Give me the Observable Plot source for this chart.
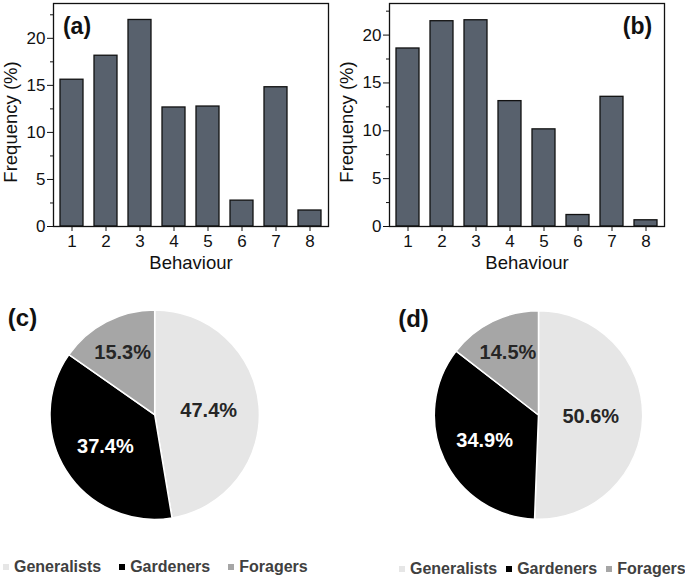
<!DOCTYPE html>
<html lang="en">
<head>
<meta charset="UTF-8">
<script src="https://cdn.jsdelivr.net/npm/d3@7"></script>
<script src="https://cdn.jsdelivr.net/npm/@observablehq/plot@0.6"></script>
<style>
  body { margin: 0; background: #fff; font-family: "Liberation Sans", Arial, sans-serif; }
  #fig { position: relative; width: 685px; height: 578px; overflow: hidden; }
  .panel { position: absolute; }
  .legend { position: absolute; display: flex; align-items: center; height: 18px; line-height: 18px;
            font-weight: bold; font-size: 16px; color: #404040; white-space: nowrap; }
  .legend .item { display: flex; align-items: center; }
  .legend .sw { display: inline-block; width: 6px; height: 6px; margin-right: 5px; }
</style>
</head>
<body>
<div id="fig">
  <div class="panel" id="pa" style="left:0;top:0"></div>
  <div class="panel" id="pb" style="left:336px;top:0"></div>
  <div class="panel" id="pc" style="left:0;top:290px"></div>
  <div class="panel" id="pd" style="left:340px;top:290px"></div>
  <div class="legend" id="lc" style="left:3px;top:558px;gap:18px"></div>
  <div class="legend" id="ld" style="left:399px;top:560px;gap:9px"></div>
</div>
<script>
// bar panels (a) and (b)
const behaviours = [1, 2, 3, 4, 5, 6, 7, 8];
const freqA = [15.6, 18.15, 21.95, 12.65, 12.75, 2.75, 14.8, 1.7];
const freqB = [18.6, 21.45, 21.55, 13.1, 10.15, 1.2, 13.55, 0.65];
const yTicks = [0, 5, 10, 15, 20];

// pie panels (c) and (d)
const groups = ["Generalists", "Gardeners", "Foragers"];
const shareC = [47.4, 37.4, 15.3];
const shareD = [50.6, 34.9, 14.5];

const font = "Liberation Sans, Arial, sans-serif";
const sliceColor = d3.scaleOrdinal(groups, ["#e6e6e6", "#000000", "#a6a6a6"]);

function barChart(values, yMax, tag, tagAnchor, tagDx) {
  const rows = behaviours.map((b, i) => ({behaviour: b, freq: values[i]}));
  return Plot.plot({
    width: 340,
    height: 280,
    marginLeft: 53,
    marginRight: 12,
    marginTop: 3,
    marginBottom: 54,
    style: {fontFamily: font, fontSize: "17px", color: "#111", background: "transparent", overflow: "visible"},
    x: {domain: behaviours, paddingInner: 0.31, paddingOuter: 0.16},
    y: {domain: [0, yMax]},
    marks: [
      Plot.barY(rows, {x: "behaviour", y: "freq", fill: "#58616d", stroke: "#111", strokeWidth: 1.3}),
      Plot.axisY({ticks: d3.range(2.5, yMax, 5), tickSize: 3, tickFormat: () => "", label: null}),
      Plot.axisY({ticks: yTicks, tickSize: 6, tickPadding: 2, label: null}),
      Plot.axisX({tickSize: 5, tickPadding: 3, label: null}),
      Plot.frame({stroke: "#111", strokeWidth: 1.3}),
      Plot.text(["Frequency (%)"], {frameAnchor: "left", textAnchor: "middle", lineAnchor: "middle",
        rotate: -90, dx: -42, dy: 7, fontSize: 18.5}),
      Plot.text(["Behaviour"], {frameAnchor: "bottom", lineAnchor: "middle", dy: 37, fontSize: 18.5}),
      Plot.text([tag], {frameAnchor: tagAnchor, textAnchor: "middle", lineAnchor: "middle",
        dx: tagDx, dy: 23, fontSize: 23, fontWeight: "bold"})
    ]
  });
}

function pieChart(shares, tag, cx, cy, R, tagX, tagY) {
  const arcs = d3.pie().sort(null).value(d => d.share)(
    groups.map((g, i) => ({group: g, share: shares[i]}))
  );
  const mid = d => (d.startAngle + d.endAngle) / 2;
  // bigger slices keep their label nearer the centre
  const lr = d => 0.75 - 0.5 * d.data.share / 100;
  const label = {
    x: d => lr(d) * Math.sin(mid(d)),
    y: d => lr(d) * Math.cos(mid(d)),
    text: d => d.data.share.toFixed(1) + "%",
    fontSize: 20,
    fontWeight: "bold"
  };
  return Plot.plot({
    width: 340,
    height: 250,
    margin: 0,
    style: {fontFamily: font, background: "transparent", overflow: "visible"},
    x: {domain: [-1, 1], range: [cx - R, cx + R], axis: null},
    y: {domain: [-1, 1], range: [cy + R, cy - R], axis: null},
    marks: [
      (index, scales) => {
        const x0 = scales.x(0), y0 = scales.y(0), r = scales.x(1) - scales.x(0);
        const arc = d3.arc().innerRadius(0).outerRadius(r);
        const g = d3.create("svg:g").attr("transform", `translate(${x0},${y0})`);
        g.selectAll("path").data(arcs).join("path")
          .attr("d", arc)
          .attr("fill", d => sliceColor(d.data.group))
          .attr("stroke", "#fff")
          .attr("stroke-width", 1.5);
        return g.node();
      },
      Plot.text(arcs.filter(d => d.data.group !== "Gardeners"), {...label, fill: "#262626"}),
      Plot.text(arcs.filter(d => d.data.group === "Gardeners"), {...label, fill: "#fff"}),
      Plot.text([tag], {frameAnchor: "top-left", textAnchor: "middle", lineAnchor: "middle",
        dx: tagX, dy: tagY, fontSize: 24, fontWeight: "bold", fill: "#111"})
    ]
  });
}

function legend(el) {
  groups.forEach(g => {
    const item = document.createElement("div");
    item.className = "item";
    item.innerHTML = `<span class="sw" style="background:${sliceColor(g)}"></span>${g}`;
    el.append(item);
  });
}

document.querySelector("#pa").append(barChart(freqA, 23.7, "(a)", "top-left", 23.5));
document.querySelector("#pb").append(barChart(freqB, 23.3, "(b)", "top-right", -27));
document.querySelector("#pc").append(pieChart(shareC, "(c)", 154.7, 124.7, 104.7, 22, 28));
document.querySelector("#pd").append(pieChart(shareD, "(d)", 198.5, 125, 104.2, 73, 29));
legend(document.querySelector("#lc"));
legend(document.querySelector("#ld"));
</script>
</body>
</html>
